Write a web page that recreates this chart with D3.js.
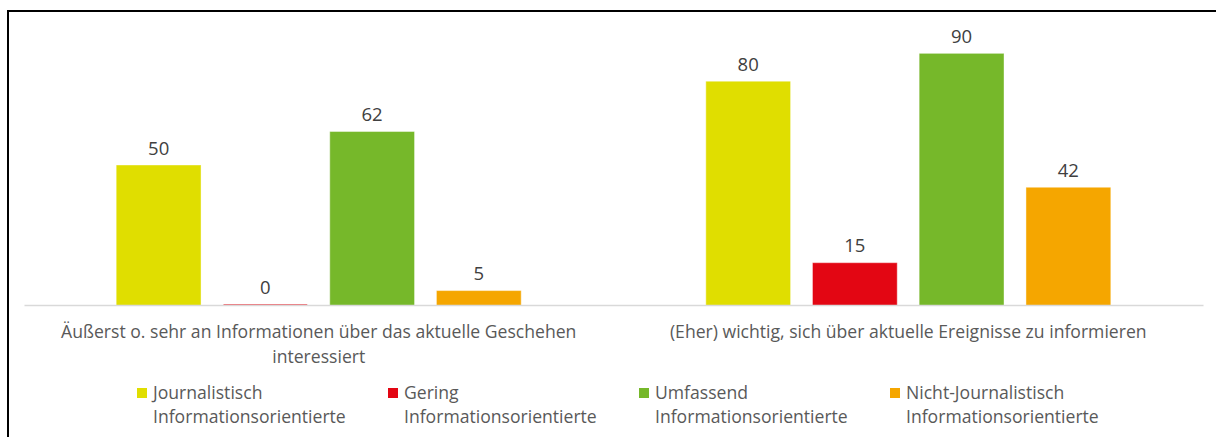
<!DOCTYPE html>
<html>
<head>
<meta charset="utf-8">
<script src="https://cdn.jsdelivr.net/npm/d3@7"></script>
<style>
  body { margin: 0; background: #fff; }
  svg { display: block; font-family: "Open Sans", Lato, sans-serif; font-variant-ligatures: none; }
</style>
</head>
<body>
<svg id="chart" width="1216" height="437"></svg>
<script>
var categories = [
    ["Äußerst o. sehr an Informationen über das aktuelle Geschehen", "interessiert"],
    ["(Eher) wichtig, sich über aktuelle Ereignisse zu informieren"]
];
var seriesNames = [
    ["Journalistisch", "Informationsorientierte"],
    ["Gering", "Informationsorientierte"],
    ["Umfassend", "Informationsorientierte"],
    ["Nicht-Journalistisch", "Informationsorientierte"]
];
var seriesColors = ["#e0de00", "#e30613", "#76b82a", "#f5a600"];
var values = [
    [50, 80],
    [0, 15],
    [62, 90],
    [5, 42]
];

var svg = d3.select("#chart");
var textColor = "#595959";
var fontSize = 17.6;

// frame (only left + top edges are visible in the crop)
svg.append("path")
    .attr("d", "M8,440 L8,11 L1220,11")
    .attr("fill", "none")
    .attr("stroke", "#000")
    .attr("stroke-width", 2);

var x0 = d3.scaleBand()
    .domain(d3.range(categories.length))
    .range([24, 1203]);

var x1 = d3.scaleBand()
    .domain(d3.range(seriesNames.length))
    .range([0, x0.bandwidth()])
    .paddingInner(0.215)
    .paddingOuter(0.869);

var y = d3.scaleLinear()
    .domain([0, 100])
    .range([305, 26]);

var groups = svg.selectAll("g.grp")
    .data(d3.range(categories.length))
    .enter().append("g")
    .attr("class", "grp")
    .attr("transform", function (c) { return "translate(" + x0(c) + ",0)"; });

function barH(d) { return Math.max(1, y(0) - y(d.v)); }

groups.selectAll("rect")
    .data(function (c) {
        return values.map(function (v, s) { return { s: s, v: v[c] }; });
    })
    .enter().append("rect")
    .attr("x", function (d) { return x1(d.s); })
    .attr("width", x1.bandwidth())
    .attr("y", function (d) { return y(0) - barH(d); })
    .attr("height", barH)
    .attr("fill", function (d) { return seriesColors[d.s]; })
    .attr("fill-opacity", function (d) { return d.v === 0 ? 0.6 : 1; })
    .attr("stroke", function (d) { return seriesColors[d.s]; })
    .attr("stroke-opacity", function (d) { return d.v === 0 ? 0 : 0.6; })
    .attr("stroke-width", 1);

groups.selectAll("text.val")
    .data(function (c) {
        return values.map(function (v, s) { return { s: s, v: v[c] }; });
    })
    .enter().append("text")
    .attr("class", "val")
    .attr("x", function (d) { return x1(d.s) + x1.bandwidth() / 2; })
    .attr("y", function (d) { return y(d.v) - 11; })
    .attr("text-anchor", "middle")
    .attr("fill", "#404040")
    .attr("font-size", 18.5)
    .text(function (d) { return d.v; });

// axis line
var xAxis = d3.axisBottom(x0).tickSize(0).tickFormat("");
var axisG = svg.append("g")
    .attr("transform", "translate(0," + y(0) + ")")
    .call(xAxis);
axisG.select(".domain").attr("stroke", "#d9d9d9").attr("stroke-width", 1.5);

// category labels
groups.append("text")
    .attr("x", x0.bandwidth() / 2)
    .attr("text-anchor", "middle")
    .attr("fill", textColor)
    .attr("font-size", fontSize)
    .selectAll("tspan")
    .data(function (c) { return categories[c]; })
    .enter().append("tspan")
    .attr("x", x0.bandwidth() / 2)
    .attr("y", function (d, i) { return 338 + i * 25; })
    .text(function (d) { return d; });

// legend
var legendX = d3.scaleBand()
    .domain(d3.range(seriesNames.length))
    .range([137, 137 + 251 * 4]);

var leg = svg.selectAll("g.leg")
    .data(d3.range(seriesNames.length))
    .enter().append("g")
    .attr("class", "leg")
    .attr("transform", function (s) { return "translate(" + legendX(s) + ",0)"; });

leg.append("rect")
    .attr("x", 0)
    .attr("y", 388)
    .attr("width", 10)
    .attr("height", 10)
    .attr("fill", function (s) { return seriesColors[s]; });

leg.append("text")
    .attr("fill", textColor)
    .attr("font-size", fontSize)
    .selectAll("tspan")
    .data(function (s) { return seriesNames[s]; })
    .enter().append("tspan")
    .attr("x", 16)
    .attr("y", function (d, i) { return 399 + i * 24; })
    .text(function (d) { return d; });
</script>
</body>
</html>
